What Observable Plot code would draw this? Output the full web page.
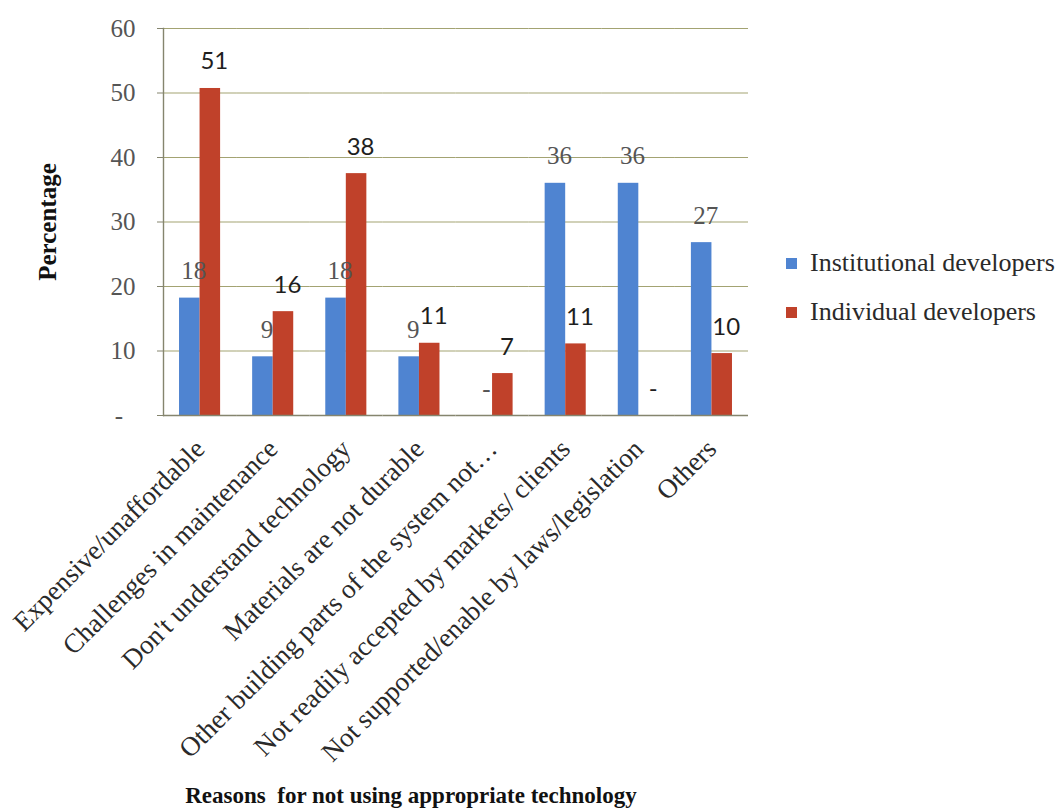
<!DOCTYPE html>
<html>
<head>
<meta charset="utf-8">
<script src="https://cdn.jsdelivr.net/npm/d3@7"></script>
<script src="https://cdn.jsdelivr.net/npm/@observablehq/plot@0.6"></script>
<style>
  html, body { margin: 0; padding: 0; background: #ffffff; }
  #wrap { position: relative; width: 1060px; height: 811px; }
  #legend { position: absolute; left: 786px; top: 250px; font-family: "Liberation Serif", serif; font-size: 26px; color: #2a2a2a; }
  #legend .item { display: flex; align-items: center; height: 26px; margin-bottom: 23px; white-space: nowrap; }
  #legend .sw { width: 11px; height: 11px; margin-right: 13px; }
</style>
</head>
<body>
<div id="wrap"></div>
<script>
const categories = [
  "Expensive/unaffordable",
  "Challenges in maintenance",
  "Don't understand technology",
  "Materials are not durable",
  "Other building parts of the system not…",
  "Not readily accepted by markets/ clients",
  "Not supported/enable by laws/legislation",
  "Others"
];
const series = ["Institutional developers", "Individual developers"];
const institutional = [18.2, 9.1, 18.2, 9.1, 0, 36.0, 36.0, 26.8];
const individual = [50.7, 16.1, 37.5, 11.2, 6.5, 11.1, 0, 9.6];
const yTicks = [0, 10, 20, 30, 40, 50, 60];
const colors = ["#4f84d1", "#c0412a"];
const xTitle = "Reasons  for not using appropriate technology";
const yTitle = "Percentage";

const rows = categories.flatMap((c, i) => [
  {category: c, series: series[0], value: institutional[i]},
  {category: c, series: series[1], value: individual[i]}
]);
const fmt = v => v === 0 ? "-" : String(Math.round(v));
const serif = "Liberation Serif, serif";

const chart = Plot.plot({
  width: 1060,
  height: 811,
  marginLeft: 163,
  marginRight: 312,
  marginTop: 28,
  marginBottom: 396,
  style: {fontFamily: serif, background: "#ffffff", overflow: "visible"},
  fx: {domain: categories, padding: 0, round: false, label: null},
  x: {domain: series, paddingInner: 0, paddingOuter: 0.78, round: false, axis: null},
  y: {domain: [0, 60], label: null},
  color: {domain: series, range: colors},
  marks: [
    Plot.gridY(yTicks.slice(1), {stroke: "#a3a372", strokeOpacity: 1, strokeWidth: 1.2}),
    Plot.axisY({ticks: yTicks, tickSize: 6, tickPadding: 22, stroke: "#85856e", tickFormat: d => d === 0 ? "-\u2007" : d, fontSize: 25, fill: "#555555", fontFamily: serif, label: null}),
    Plot.barY(rows, {fx: "category", x: "series", y: "value", fill: "series"}),
    Plot.ruleY([0], {stroke: "#85856e", strokeWidth: 1.4}),
    Plot.frame({anchor: "left", facetAnchor: "left", stroke: "#85856e", strokeWidth: 1.4}),
    Plot.text(rows.filter(d => d.series === series[0]), {
      fx: "category", x: "series", y: "value", text: d => fmt(d.value),
      lineAnchor: "bottom", dy: -19, dx: 4, fontSize: 25, fill: "#555555",
      fontFamily: serif
    }),
    Plot.text(rows.filter(d => d.series === series[1]), {
      fx: "category", x: "series", y: "value", text: d => fmt(d.value),
      lineAnchor: "bottom", dy: -19, dx: 4, fontSize: 24, fill: "#1e1e1e",
      fontFamily: "Lato, sans-serif"
    }),
    Plot.axisFx({anchor: "bottom", tickRotate: -45, tickSize: 0, tickPadding: 29, fontSize: 27, fill: "#2a2a2a", fontFamily: serif, label: null}),
    Plot.text([xTitle], {
      facet: "super", frameAnchor: "bottom", dy: 387, dx: -45, fontSize: 23,
      fontWeight: "bold", lineAnchor: "bottom", fill: "#111111", fontFamily: serif
    }),
    Plot.text([yTitle], {
      facet: "super", frameAnchor: "left", rotate: -90, dx: -108, textAnchor: "middle", fontSize: 25,
      fontWeight: "bold", lineAnchor: "bottom", fill: "#111111", fontFamily: serif
    })
  ]
});

const wrap = document.getElementById("wrap");
wrap.appendChild(chart);

const legend = document.createElement("div");
legend.id = "legend";
series.forEach((s, i) => {
  const item = document.createElement("div");
  item.className = "item";
  const sw = document.createElement("span");
  sw.className = "sw";
  sw.style.background = colors[i];
  const label = document.createElement("span");
  label.textContent = s;
  item.appendChild(sw);
  item.appendChild(label);
  legend.appendChild(item);
});
wrap.appendChild(legend);
</script>
</body>
</html>
